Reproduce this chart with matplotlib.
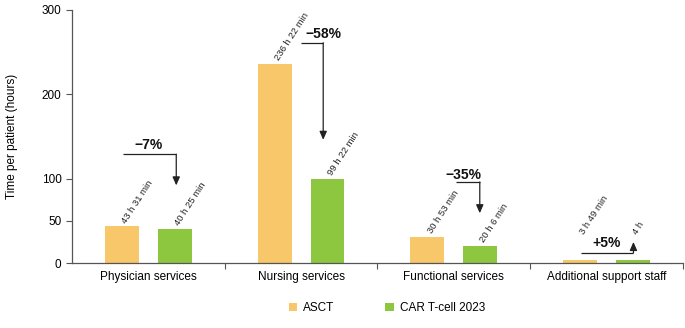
import matplotlib
matplotlib.use("Agg")
import matplotlib.pyplot as plt
import numpy as np

plt.rcParams['font.family'] = ['Liberation Sans', 'DejaVu Sans']

categories = ["Physician services", "Nursing services", "Functional services", "Additional support staff"]
asct = [43.52, 236.37, 30.88, 3.82]
cart = [40.42, 99.37, 20.10, 4.0]
asct_labels = ["43 h 31 min", "236 h 22 min", "30 h 53 min", "3 h 49 min"]
cart_labels = ["40 h 25 min", "99 h 22 min", "20 h 6 min", "4 h"]
changes = ["\u22127%", "\u221258%", "\u221235%", "+5%"]
series_names = ["ASCT", "CAR T-cell 2023"]
yticks = [0, 50, 100, 200, 300]

c_asct = "#F7C76A"
c_cart = "#8DC63F"

fig = plt.figure(figsize=(6.85, 3.28), dpi=100)
ax = fig.add_axes([0.105, 0.198, 0.892, 0.772])

x = np.arange(len(categories))
off = 0.173
w = 0.222
b1 = ax.bar(x - off, asct, w, color=c_asct, label=series_names[0])
b2 = ax.bar(x + off, cart, w, color=c_cart, label=series_names[1])

# extra lift (points) for labels that sit above the change arrow
lift = [0, 0, 0, 16]

for i, (xi, v, lab) in enumerate(zip(x - off, asct, asct_labels)):
    ax.annotate(lab, (xi, v), xytext=(1.5, 3 + lift[i]), textcoords="offset points",
                rotation=57, rotation_mode="anchor", ha="left", va="center", fontsize=6.8, color="#222222")
for i, (xi, v, lab) in enumerate(zip(x + off, cart, cart_labels)):
    ax.annotate(lab, (xi, v), xytext=(1.5, 3 + lift[i]), textcoords="offset points",
                rotation=57, rotation_mode="anchor", ha="left", va="center", fontsize=6.8, color="#222222")

# change arrows: (line start x offset, line end x offset, line y, tip y, text x, text y)
arrow_specs = [
    (-0.163, 0.183, 129, 92, 0.0, 140),
    (0.0, 0.145, 261, 146, 0.145, 271),
    (0.013, 0.17, 96, 59, 0.065, 104),
    (-0.17, 0.176, 12, 25, 0.0, 24),
]
for i, (xs, xe, yl, yt, tx, ty) in enumerate(arrow_specs):
    ax.plot([i + xs, i + xe], [yl, yl], color="#222222", lw=0.9, solid_capstyle="butt")
    ax.annotate("", xy=(i + xe, yt), xytext=(i + xe, yl),
                arrowprops=dict(arrowstyle="-|>,head_length=0.5,head_width=0.22", color="#222222", lw=0.9,
                                shrinkA=0, shrinkB=0))
    ax.text(i + tx, ty, changes[i], ha="center", va="center", fontsize=10, fontweight="bold", color="#111111")

ax.set_xlim(-0.5, 3.5)
ax.set_ylim(0, 300)
ax.set_yticks(yticks)
ax.set_xticks(x)
ax.set_xticklabels(categories, fontsize=8.5)
ax.set_xticks(np.arange(0.5, 3.6, 1), minor=True)
ax.tick_params(axis="x", which="major", length=0, pad=6)
ax.tick_params(axis="x", which="minor", length=4, color="#555555", width=0.8)
ax.tick_params(axis="y", length=4, color="#555555", width=0.8, labelsize=8.5)
ax.set_ylabel("Time per patient (hours)", fontsize=8.5, labelpad=17)
for s in ["top", "right"]:
    ax.spines[s].set_visible(False)
for s in ["left", "bottom"]:
    ax.spines[s].set_color("#555555")
    ax.spines[s].set_linewidth(0.9)

fig.legend(handles=[b1, b2], labels=series_names, loc="center", bbox_to_anchor=(0.565, 0.06),
           ncol=2, frameon=False, fontsize=8.5, handlelength=0.7, handleheight=0.7,
           handletextpad=0.5, columnspacing=4.3)

fig.savefig("out.png", dpi=100)
